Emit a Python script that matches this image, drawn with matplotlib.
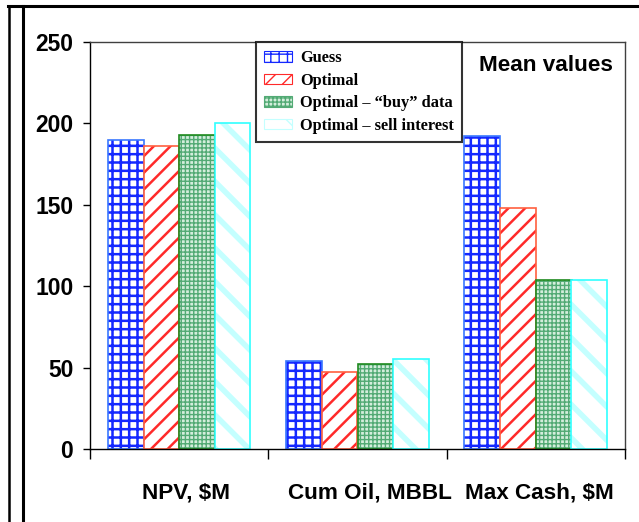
import numpy as np
import matplotlib as mpl
import matplotlib.pyplot as plt
import matplotlib.transforms as mtransforms
from matplotlib.lines import Line2D

plt.rcParams['font.family'] = 'Liberation Sans'

categories = ['NPV, $M', 'Cum Oil, MBBL', 'Max Cash, $M']
series_names = ['Guess', 'Optimal', 'Optimal \u2013 \u201cbuy\u201d data', 'Optimal \u2013 sell interest']
guess = [190, 54, 192]
optimal = [186, 47, 148]
buy_data = [193, 52, 104]
sell_interest = [200, 55, 104]
yticks = [0, 50, 100, 150, 200, 250]

values = [guess, optimal, buy_data, sell_interest]
# face, hatch colour, hatch, edge colour, hatch line width
styles = [
    ('white', '#1428ff', '++', '#3a78ff', 1.8),
    ('white', '#ff2a2a', '//', '#ff6040', 1.8),
    ('#d4eedc', '#52aa74', '++++', '#1f8a1f', 1.0),
    ('white', '#c4ffff', '\\', '#30ffff', 4.0),
]

fig = plt.figure(figsize=(6.39, 5.22), dpi=100)
ax = fig.add_axes([90 / 639, 73 / 522, 535 / 639, 407 / 522])

x = np.arange(len(categories))
w = 0.2
handles = []
for i, (vals, (fc, hc, hatch, ec, hlw)) in enumerate(zip(values, styles)):
    pos = x - 1.5 * w + i * w
    with mpl.rc_context({'hatch.linewidth': hlw}):
        # hatch pass, then outline pass so edge and hatch colours differ
        ax.bar(pos, vals, w, color=fc, edgecolor=hc, hatch=hatch, linewidth=0)
        handles.append(plt.Rectangle((0, 0), 1, 1, facecolor=fc, edgecolor=hc,
                                     hatch=hatch, linewidth=0.8))
    ax.bar(pos, vals, w, facecolor='none', edgecolor=ec, linewidth=1.2)

ax.set_xlim(-0.5, 2.5)
ax.set_ylim(0, 250)
ax.set_yticks(yticks)
ax.set_yticklabels([str(t) for t in yticks], fontsize=16.5, fontweight='bold')
ax.tick_params(axis='y', direction='out', length=5, width=1, pad=7)

ax.set_xticks(x)
ax.set_xticklabels(categories, fontsize=16.2, fontweight='bold')
ax.tick_params(axis='x', which='major', length=0, pad=24)
ax.set_xticks([-0.5, 0.5, 1.5, 2.5], minor=True)
ax.tick_params(axis='x', which='minor', direction='out', length=7, width=1)

# category labels sit a little right of the group centres
for lbl, dx in zip(ax.get_xticklabels(), [7, 12, 4]):
    shift = mtransforms.ScaledTranslation(dx / 100, 0, fig.dpi_scale_trans)
    lbl.set_transform(lbl.get_transform() + shift)

for side in ['top', 'right']:
    ax.spines[side].set_color('#404040')
    ax.spines[side].set_linewidth(1)
for side in ['left', 'bottom']:
    ax.spines[side].set_color('black')
    ax.spines[side].set_linewidth(1)

ax.text(0.977, 0.968, 'Mean values', transform=ax.transAxes, ha='right',
        va='top', fontsize=16.2, fontweight='bold')

leg = ax.legend(handles, series_names, loc='upper left',
                bbox_to_anchor=(166 / 535, 1.0), frameon=True, fancybox=False,
                prop={'family': 'Liberation Serif', 'weight': 'bold', 'size': 11.8},
                handlelength=1.7, handleheight=0.6, handletextpad=0.5,
                labelspacing=0.4, borderpad=0.5, borderaxespad=0)
leg.get_frame().set_edgecolor('black')
leg.get_frame().set_linewidth(1.5)

# outer frame
fig.add_artist(Line2D([8 / 639, 1], [1 - 6 / 522] * 2, color='black', lw=2.2))
fig.add_artist(Line2D([9 / 639] * 2, [0, 1 - 6 / 522], color='black', lw=1.8))
fig.add_artist(Line2D([22.5 / 639] * 2, [0, 1 - 6 / 522], color='black', lw=2.2))

fig.savefig('out.png', dpi=100)
